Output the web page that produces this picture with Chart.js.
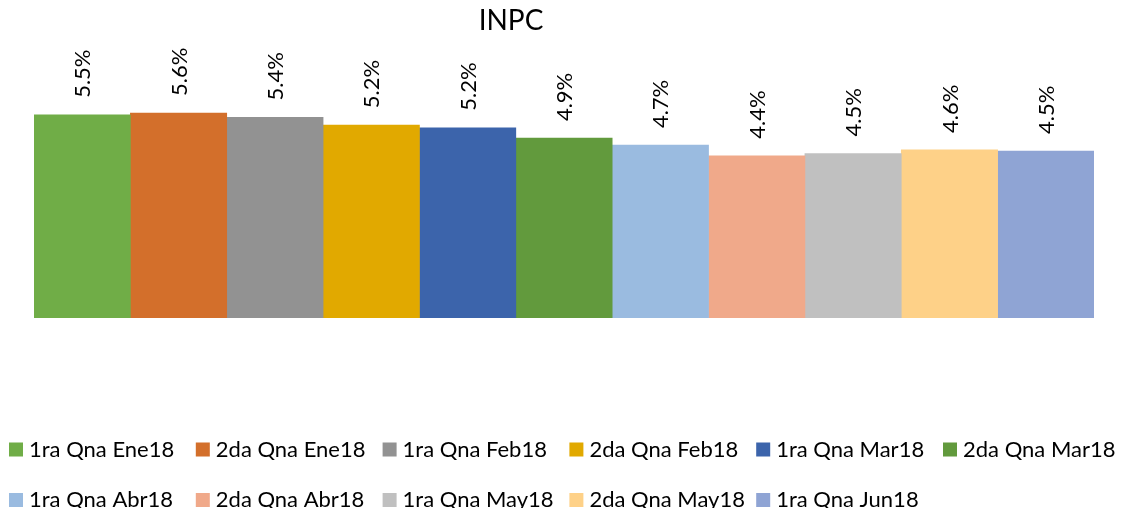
<!DOCTYPE html>
<html>
<head>
<meta charset="utf-8">
<title>INPC</title>
<script src="https://cdn.jsdelivr.net/npm/chart.js@4.4.1/dist/chart.umd.min.js"></script>
<style>
  html, body { margin: 0; padding: 0; background: #fff; }
  #wrap { width: 1123px; height: 508px; }
</style>
</head>
<body>
<div id="wrap"><canvas id="inpcChart" width="1123" height="508"></canvas></div>
<script>
// one series per fortnight, all in a single category
const series = ['1ra Qna Ene18', '2da Qna Ene18', '1ra Qna Feb18', '2da Qna Feb18', '1ra Qna Mar18', '2da Qna Mar18',
                '1ra Qna Abr18', '2da Qna Abr18', '1ra Qna May18', '2da Qna May18', '1ra Qna Jun18'];
const values = [5.51, 5.56, 5.44, 5.23, 5.16, 4.88, 4.69, 4.40, 4.46, 4.56, 4.53];
const colors = ['#70AD47', '#D36F2B', '#929292', '#E1A900', '#3C64AB', '#629A3D',
                '#9ABBE0', '#F0A98A', '#C0C0C0', '#FED188', '#8FA4D4'];

const FONT = 'Lato';

// rotated value labels above each bar
const barLabels = {
    id: 'barLabels',
    afterDatasetsDraw(chart) {
        const ctx = chart.ctx;
        ctx.save();
        ctx.font = '22px ' + FONT;
        ctx.fillStyle = '#000';
        ctx.textAlign = 'left';
        ctx.textBaseline = 'middle';
        chart.data.datasets.forEach((ds, i) => {
            const bar = chart.getDatasetMeta(i).data[0];
            ctx.save();
            ctx.translate(bar.x + 1, bar.y - 17);
            ctx.rotate(-Math.PI / 2);
            ctx.fillText(ds.data[0].toFixed(1) + '%', 0, 0);
            ctx.restore();
        });
        ctx.restore();
    }
};

// title (offset left like the original) and grid legend
const titleAndLegend = {
    id: 'titleAndLegend',
    afterDraw(chart) {
        const ctx = chart.ctx;
        ctx.save();
        ctx.fillStyle = '#000';
        ctx.font = '28px ' + FONT;
        ctx.textAlign = 'center';
        ctx.textBaseline = 'middle';
        ctx.fillText('INPC', 511, 21);

        ctx.font = '22px ' + FONT;
        ctx.textAlign = 'left';
        chart.data.datasets.forEach((ds, i) => {
            const col = i % 6;
            const row = Math.floor(i / 6);
            const x = 9 + col * 186.8;
            const y = 449.5 + row * 50.5;
            ctx.fillStyle = ds.backgroundColor;
            ctx.fillRect(x, y - 7, 14, 14);
            ctx.fillStyle = '#000';
            ctx.fillText(ds.label, x + 20, y);
        });
        ctx.restore();
    }
};

new Chart(document.getElementById('inpcChart').getContext('2d'), {
    type: 'bar',
    data: {
        labels: [''],
        datasets: series.map((name, i) => ({
            label: name,
            data: [values[i]],
            backgroundColor: colors[i],
            borderWidth: 0,
            categoryPercentage: 1,
            barPercentage: 1
        }))
    },
    options: {
        responsive: false,
        animation: false,
        layout: { padding: { left: 34, right: 29, top: 41.5, bottom: 190 } },
        plugins: {
            legend: { display: false },
            title: { display: false },
            tooltip: { enabled: false }
        },
        scales: {
            x: { display: false },
            y: { display: false, min: 0, max: 7.5 }
        }
    },
    plugins: [barLabels, titleAndLegend]
});
</script>
</body>
</html>
